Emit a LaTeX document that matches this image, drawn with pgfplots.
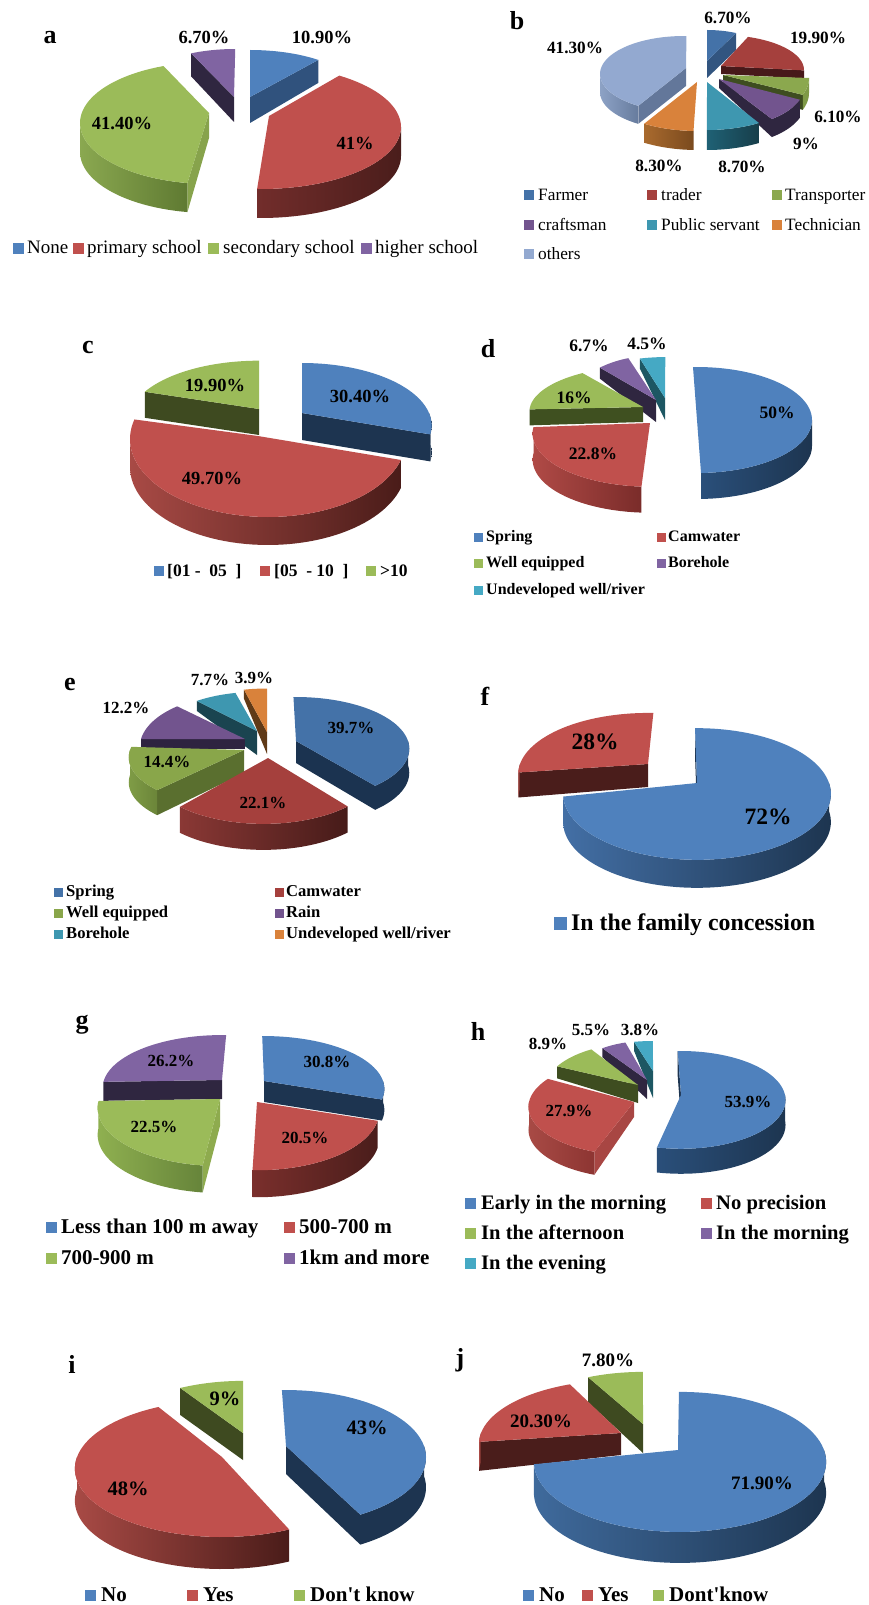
\documentclass[border=0pt]{standalone}
\usepackage{pgfplots}
\pgfplotsset{compat=1.18}
\usepackage{fontspec}
\setmainfont{Liberation Serif}[Ligatures=TeXOff]

% ---- one exploded 3D pie slice, swept from its percentage -------------------
\newcount\slstep
\pgfkeys{/sl/.cd,
  top/.store in=\slTop, wl/.store in=\slWl, wr/.store in=\slWr,
  fa/.store in=\slFa, fb/.store in=\slFb, k/.store in=\slK,
  ox/.store in=\slOx, oy/.store in=\slOy, da/.store in=\slDa,
  blue/.style={top=4F81BD,wl=3F6A9C,wr=1D3550},
  red/.style={top=C0504D,wl=A84A45,wr=4A1C19},
  green/.style={top=9BBB59,wl=8AA850,wr=5F7A32},
  purple/.style={top=8064A2,wl=2F2640,wr=2F2640},
  teal/.style={top=45A9C4,wl=1F6175,wr=173E4A},
  orange/.style={top=D9823B,wl=A96A2E,wr=7A4A1E}}
\def\slNone{none}
\newcommand\hexcol[1]{\edef\slTmp{\noexpand\xglobal\noexpand\definecolor{h#1}{HTML}{#1}}\slTmp}
\newcommand\rimxy[1]{%
  \pgfmathsetmacro\slC{cos(#1)}\pgfmathsetmacro\slSn{sin(#1)}%
  \pgfmathsetmacro\slQ{1-\slK*\slSn}%
  \pgfmathsetmacro\rimx{\slEx+\slRx*\slC/\slQ}%
  \pgfmathsetmacro\rimy{\slEy+\slRy*\slSn/\slQ}}
\newcommand\addarc[3]{%
  \pgfmathtruncatemacro\slN{max(1,ceil(abs(#2-#1)/3))}%
  \slstep=0
  \loop\ifnum\slstep>\slN\else
    \pgfmathsetmacro\slA{#1+(#2-#1)/\slN*\the\slstep}%
    \rimxy{\slA}%
    \pgfmathsetmacro\slYY{\rimy+#3}%
    \edef\pts{\pts (\rimx,\slYY)}%
    \advance\slstep by 1
  \repeat}
\newcommand\cutface[2]{%
  \ifx#2\slNone\else
    \expandafter\hexcol\expandafter{#2}%
    \rimxy{#1}%
    \pgfmathsetmacro\slYY{\rimy+\slD}%
    \pgfmathsetmacro\slYA{\slAy+\slDa}%
    \edef\slTmp{\noexpand\addplot[draw=none,forget plot,no markers,fill=h#2] coordinates
      {(\slAx,\slAy) (\rimx,\rimy) (\rimx,\slYY) (\slAx,\slYA)};}\slTmp
  \fi}
\newcommand\wallpart[2]{%
  \def\pts{}\addarc{#1}{#2}{0}\addarc{#2}{#1}{\slD}%
  \edef\slTmp{\noexpand\addplot[draw=none,forget plot,no markers,left color=h\slWl,right color=h\slWr] coordinates {\pts};}\slTmp}
% \slice[style]{apex x}{apex y}{rx}{ry}{start angle}{percent}{depth}
\newcommand\slice[8][]{%
  \pgfkeys{/sl/.cd,top=4F81BD,wl=3F6A9C,wr=1D3550,fa=none,fb=none,k=0,ox=0,oy=0,da=-1,#1}%
  \expandafter\hexcol\expandafter{\slTop}\expandafter\hexcol\expandafter{\slWl}\expandafter\hexcol\expandafter{\slWr}%
  \def\slAx{#2}\def\slAy{#3}\def\slRx{#4}\def\slRy{#5}\def\slD{#8}%
  \pgfmathsetmacro\slEx{#2+\slOx}\pgfmathsetmacro\slEy{#3+\slOy}%
  \pgfmathsetmacro\slS{mod(#6+720,360)}%
  \pgfmathsetmacro\slT{\slS+3.6*#7}%
  \ifdim\slDa pt<0pt \let\slDa\slD\fi
  \cutface{\slS}{\slFa}\cutface{\slT}{\slFb}%
  % outer wall: only the part of the rim that faces the viewer
  \ifdim\slS pt<180pt
    \pgfmathsetmacro\slHi{min(\slT,180)}\wallpart{\slS}{\slHi}%
  \fi
  \ifdim\slT pt>360pt
    \pgfmathsetmacro\slLo{max(\slS,360)}\pgfmathsetmacro\slHi{min(\slT,540)}\wallpart{\slLo}{\slHi}%
  \fi
  \edef\pts{(\slAx,\slAy)}\addarc{\slS}{\slT}{0}%
  \edef\slTmp{\noexpand\addplot[draw=none,forget plot,no markers,fill=h\slTop] coordinates {\pts};}\slTmp}

% value labels, panel letters, legend entries
\newcommand\lab[4]{\node[inner sep=0pt,font=\bfseries\fontsize{#3}{#3}\selectfont] at (axis cs:#1,#2) {#4};}
\newcommand\letter[3]{\node[inner sep=0pt,anchor=base,font=\bfseries\fontsize{26}{26}\selectfont] at (axis cs:#1,#2) {#3};}
\newcommand\lgd[7]{% weight, swatch centre x, y, colour, text x, size, text
  \hexcol{#4}%
  \pgfmathsetmacro\slMs{#6*0.25}%
  \edef\slTmp{\noexpand\addplot[only marks,forget plot,mark=square*,mark size=\slMs pt,color=h#4] coordinates {(#2,#3)};}\slTmp
  \node[inner sep=0pt,anchor=base west,yshift=-#6*0.3pt,font=#1\fontsize{#6}{#6}\selectfont] at (axis cs:#5,#3) {#7};}

\begin{document}
\begin{tikzpicture}
\useasboundingbox (0,0) rectangle (868pt,1605pt);
\begin{axis}[at={(0,0)},anchor=south west,scale only axis,width=868pt,height=1605pt,
  xmin=0,xmax=868,ymin=0,ymax=1605,y dir=reverse,hide axis,clip=false]

% ---- a: education ----
\slice[purple,fa=2F2640,ox=1,oy=2,da=25]{234}{97}{108}{50}{246}{6.7}{23}
\slice[blue,oy=-3,da=26,fb=30527D]{250}{97}{108}{44}{-90}{10.9}{23}
\slice[green,ox=1,oy=10,da=25,fa=87A34C]{209}{113}{130}{61}{100}{41.4}{29}
\slice[red,ox=-8,oy=11,wl=722D2B,wr=4A1D1B]{269}{116}{140}{62}{-56}{41}{29}
\lab{322}{37}{18.5}{10.90\%}\lab{204}{37}{18.5}{6.70\%}\lab{122}{123}{18.5}{41.40\%}\lab{355}{143}{18.5}{41\%}
\letter{50}{44}{a}
\lgd{\mdseries}{18}{248}{4F81BD}{27}{19}{None}
\lgd{\mdseries}{78}{248}{C0504D}{87}{19}{primary school}
\lgd{\mdseries}{213}{248}{9BBB59}{223}{19}{secondary school}
\lgd{\mdseries}{366}{248}{8064A2}{375}{19}{higher school}

% ---- b: occupation ----
\slice[top=93A9D0,wl=8DA2C5,wr=677C9E,ox=-2,oy=6,fa=63779A]{686}{68}{84}{38}{123}{41.3}{18}
\slice[top=4472A8,oy=4,fb=325580]{707}{61}{71}{35}{-90}{6.7}{17}
\slice[top=A5403D,wl=47191A,wr=47191A,oy=4,fb=47191A]{721}{66}{83}{35}{-71}{19.9}{8}
\slice[top=8BA84E,wl=7F9A47,wr=7F9A47,oy=3,fb=3E4D20]{723}{75}{86}{45}{0}{6.1}{15}
\slice[top=72548E,wl=2F2640,wr=2F2640,ox=1,oy=6,da=9,fb=2F2640]{719}{79}{85}{43}{20}{9}{18}
\slice[top=3E97B0,wl=1F6175,wr=173E4A]{707}{82}{100}{48}{58.7}{8.7}{20}
\slice[top=D9823B,wl=A96A2E,wr=7A4A1E,oy=1]{697}{82}{100}{48}{92}{8.3}{19}
\lab{728}{18}{17.2}{6.70\%}\lab{818}{38}{17.2}{19.90\%}\lab{575}{48}{17.2}{41.30\%}
\lab{838}{117}{17.2}{6.10\%}\lab{806}{144}{17.2}{9\%}\lab{742}{167}{17.2}{8.70\%}\lab{659}{166}{17.2}{8.30\%}
\letter{517}{30}{b}
\lgd{\mdseries}{529}{195}{4472A8}{538}{17.3}{Farmer}
\lgd{\mdseries}{652}{195}{A5403D}{661}{17.3}{trader}
\lgd{\mdseries}{777}{195}{8BA84E}{785}{17.3}{Transporter}
\lgd{\mdseries}{529}{225}{72548E}{538}{17.3}{craftsman}
\lgd{\mdseries}{652}{225}{3E97B0}{661}{17.3}{Public servant}
\lgd{\mdseries}{777}{225}{D9823B}{785}{17.3}{Technician}
\lgd{\mdseries}{529}{254}{93A9D0}{538}{17.3}{others}

% ---- c: household size ----
\slice[green,k=.2,fa=3E4A20]{259}{409}{128}{58}{198.4}{19.9}{26}
\slice[blue,k=.2,fb=1D3450,wl=1D3450,wr=1D3450]{302}{413}{127}{60}{-90}{30.4}{27}
\slice[red,ox=10,oy=3]{258}{436}{138}{78}{15.6}{49.7}{28}
\lab{360}{396}{18.5}{30.40\%}\lab{215}{385}{18.5}{19.90\%}\lab{212}{478}{18.5}{49.70\%}
\letter{88}{353}{c}
\lgd{\bfseries}{159}{571}{4F81BD}{167}{17.5}{[01 -\ \ 05\ \ ]}
\lgd{\bfseries}{265}{571}{C0504D}{274}{17.5}{[05\ \ - 10\ \ ]}
\lgd{\bfseries}{371}{571}{9BBB59}{380}{17.5}{>10}

% ---- d: water source ----
\slice[teal,k=.1,da=22,fa=1D5763]{665}{398}{100}{45}{254}{4.5}{10}
\slice[purple,k=.1,da=22,fa=2F2640]{656}{400}{85}{49}{225}{6.7}{11}
\slice[green,k=.1,da=15,fa=3F5020]{643}{407}{113}{45}{177}{16}{16}
\slice[red,k=.2,wl=B04A46,wr=7A2C2A]{650}{423}{115}{51}{93.4}{22.8}{26}
\slice[blue,wl=2A4F7A,wr=1D3550]{697}{420}{115}{53}{-92}{50}{26}
\lab{589}{346}{17.5}{6.7\%}\lab{647}{344}{17.5}{4.5\%}\lab{777}{413}{17.5}{50\%}\lab{574}{398}{17.5}{16\%}\lab{593}{454}{17.5}{22.8\%}
\letter{488}{357}{d}
\lgd{\bfseries}{478}{537}{4F81BD}{486}{16}{Spring}
\lgd{\bfseries}{661}{537}{C0504D}{668}{16}{Camwater}
\lgd{\bfseries}{478}{563}{9BBB59}{486}{16}{Well equipped}
\lgd{\bfseries}{661}{563}{8064A2}{668}{16}{Borehole}
\lgd{\bfseries}{478}{590}{45A9C4}{486}{16}{Undeveloped well/river}

% ---- e: water source, second survey ----
\slice[top=D9823B,wl=603A17,wr=603A17,k=.15,da=22,fa=603A17]{267}{732}{109}{50}{256}{3.9}{9}
\slice[top=3E97B0,wl=1A4450,wr=1A4450,k=.15,da=24,fa=1A4450]{257}{731}{100}{45}{228}{7.7}{10}
\slice[top=72548E,wl=2E2340,wr=2E2340,k=.15,fa=2E2340]{245}{739}{104}{52}{180}{12.2}{10}
\slice[top=89A64A,wl=7F9C46,wr=6B8539,k=.15,ox=-4,da=23,fa=5A6F2F]{244}{750}{110}{48}{132}{14.4}{25}
\slice[top=A5403D,wl=8A3835,wr=461B19,k=.15,ox=-4.5]{268}{758}{116}{56}{50}{22.1}{26}
\slice[top=4472A8,wr=1B3350,wl=1B3350,k=.15,da=22,fb=1B3350]{296}{741}{112}{50.6}{-91.5}{39.7}{24}
\lab{351}{728}{17}{39.7\%}\lab{263}{803}{17}{22.1\%}\lab{167}{762}{17}{14.4\%}\lab{126}{708}{17}{12.2\%}\lab{210}{680}{17}{7.7\%}\lab{254}{678}{17}{3.9\%}
\letter{70}{690}{e}
\lgd{\bfseries}{58}{892}{4472A8}{66}{16.6}{Spring}
\lgd{\bfseries}{279}{892}{A5403D}{286}{16.6}{Camwater}
\lgd{\bfseries}{58}{913}{89A64A}{66}{16.6}{Well equipped}
\lgd{\bfseries}{279}{913}{72548E}{286}{16.6}{Rain}
\lgd{\bfseries}{58}{934}{3E97B0}{66}{16.6}{Borehole}
\lgd{\bfseries}{279}{934}{D9823B}{286}{16.6}{Undeveloped well/river}

% ---- f: location ----
\slice[red,k=.167,da=23,fa=4A1D1B]{648}{764}{128}{59.6}{172}{28}{25}
\slice[blue,k=.167,wl=436FA5,fa=1D3450]{697}{783}{132}{64}{-91}{72}{28}
\lab{595}{742}{23.5}{28\%}\lab{768}{817}{23.5}{72\%}
\letter{485}{705}{f}
\lgd{\bfseries}{560}{923}{4F81BD}{571}{23.8}{In the family concession}

% ---- g: distance ----
\slice[purple,k=.15,fa=2F2640]{222}{1080}{118}{51.7}{178}{26.2}{19}
\slice[blue,k=.15,fb=1D3450,wl=1D3450,wr=1D3450]{264}{1081}{119}{51.7}{-91}{30.8}{21}
\slice[green,k=.15,fa=8EAB4E,wl=8FB050,wr=66843A]{220}{1099}{121}{57}{97}{22.5}{27}
\slice[red,k=.15,wl=7A2F2C,wr=4A1D1B]{257}{1102}{121}{58}{18}{20.5}{27}
\lab{327}{1062}{17}{30.8\%}\lab{305}{1138}{17}{20.5\%}\lab{154}{1127}{17}{22.5\%}\lab{171}{1061}{17}{26.2\%}
\letter{82}{1028}{g}
\lgd{\bfseries}{51}{1227}{4F81BD}{61}{21}{Less than 100 m away}
\lgd{\bfseries}{289}{1227}{C0504D}{299}{21}{500-700 m}
\lgd{\bfseries}{51}{1258}{9BBB59}{61}{21}{700-900 m}
\lgd{\bfseries}{289}{1258}{8064A2}{299}{21}{1km and more}

% ---- h: time of day ----
\slice[teal,k=.1,da=27,fa=1D5763]{653}{1071}{88}{33}{256.3}{3.8}{9}
\slice[purple,k=.1,da=19,fa=2F2640]{647}{1080}{80}{43}{233}{5.5}{9}
\slice[green,k=.1,da=18,fa=3E4D20]{638}{1085}{93}{46}{205}{8.9}{12}
\slice[red,k=.1,da=15,fa=A84643,wl=A84A45,wr=8D3532]{634}{1102}{105}{48}{110}{27.9}{23}
\slice[blue,k=.1,fa=1D3450,wl=2A4F7A,wr=1D3550]{681}{1095}{104}{48.4}{-92}{53.9}{25}
\lab{748}{1102}{17}{53.9\%}\lab{569}{1111}{17}{27.9\%}\lab{548}{1044}{17}{8.9\%}\lab{591}{1030}{17}{5.5\%}\lab{640}{1030}{17}{3.8\%}
\letter{478}{1040}{h}
\lgd{\bfseries}{470}{1203}{4F81BD}{481}{20.6}{Early in the morning}
\lgd{\bfseries}{706}{1203}{C0504D}{716}{20.6}{No precision}
\lgd{\bfseries}{470}{1233}{9BBB59}{481}{20.6}{In the afternoon}
\lgd{\bfseries}{706}{1233}{8064A2}{716}{20.6}{In the morning}
\lgd{\bfseries}{470}{1263}{45A9C4}{481}{20.6}{In the evening}

% ---- i: yes / no ----
\slice[green,k=.17,fa=3E4A20]{243}{1433}{134}{61}{237.6}{9}{27}
\slice[red,k=.17]{222}{1457}{145}{66.4}{67}{48}{32}
\slice[blue,k=.17,da=28,fb=1D3450,wl=1D3450,wr=1D3450]{286}{1446}{138}{65.5}{-92}{43}{30}
\lab{367}{1428}{20.5}{43\%}\lab{128}{1489}{20.5}{48\%}\lab{225}{1399}{20.5}{9\%}
\letter{72}{1373}{i}
\lgd{\bfseries}{90}{1595}{4F81BD}{101}{21}{No}
\lgd{\bfseries}{192}{1595}{C0504D}{203}{21}{Yes}
\lgd{\bfseries}{299}{1595}{9BBB59}{310}{21}{Don't know}

% ---- j: yes / no, second question ----
\slice[green,k=.17,da=29,fa=3E4A20]{643}{1424}{134}{61}{241.9}{7.8}{25}
\slice[red,k=.17,da=22,fa=4A1D1B]{621}{1433}{140}{62}{172}{20.3}{29}
\slice[blue,k=.17,ox=2]{678}{1450}{144}{68}{-90.5}{71.9}{31}
\lab{608}{1360}{19}{7.80\%}\lab{541}{1421}{19}{20.30\%}\lab{762}{1483}{19}{71.90\%}
\letter{460}{1366}{j}
\lgd{\bfseries}{528}{1595}{4F81BD}{539}{21}{No}
\lgd{\bfseries}{587}{1595}{C0504D}{598}{21}{Yes}
\lgd{\bfseries}{658}{1595}{9BBB59}{669}{21}{Dont'know}
\end{axis}
\end{tikzpicture}
\end{document}
